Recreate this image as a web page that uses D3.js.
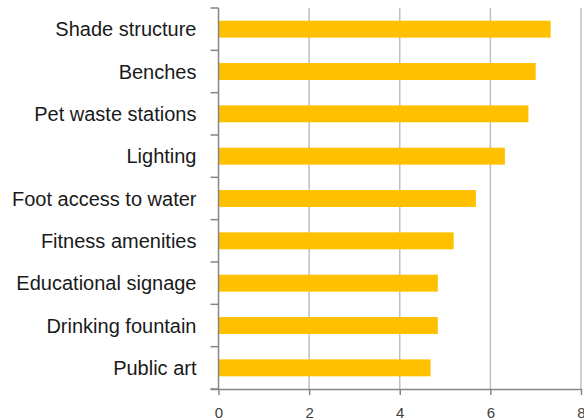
<!DOCTYPE html>
<html>
<head>
<meta charset="utf-8">
<script src="https://cdn.jsdelivr.net/npm/d3@7"></script>
<style>
  html, body { margin: 0; padding: 0; background: #fff; }
  svg { display: block; font-family: "Liberation Sans", Arial, sans-serif; }
</style>
</head>
<body>
<svg id="chart" width="584" height="420"></svg>
<script>
// Amenity ratings, top to bottom
const categories = [
  "Shade structure", "Benches", "Pet waste stations", "Lighting",
  "Foot access to water", "Fitness amenities", "Educational signage",
  "Drinking fountain", "Public art"
];
const values = [7.33, 7.0, 6.84, 6.32, 5.68, 5.19, 4.84, 4.84, 4.68];
const xTicks = [0, 2, 4, 6, 8];

const svg = d3.select("#chart");
const margin = { top: 8, right: 3, bottom: 31, left: 218.5 };
const width = 584 - margin.left - margin.right;
const height = 420 - margin.top - margin.bottom;

const x = d3.scaleLinear().domain([0, 8]).range([0, width]);
const y = d3.scaleBand().domain(categories).range([0, height]).paddingInner(0.6).paddingOuter(0.3);

const g = svg.append("g").attr("transform", `translate(${margin.left},${margin.top})`);

// vertical gridlines
g.append("g").selectAll("line")
  .data(xTicks.filter(t => t > 0))
  .join("line")
  .attr("x1", d => x(d)).attr("x2", d => x(d))
  .attr("y1", 0).attr("y2", height)
  .attr("stroke", "#bfbfbf").attr("stroke-width", 1.5);

// bars
g.append("g").selectAll("rect")
  .data(categories)
  .join("rect")
  .attr("x", 0)
  .attr("y", d => y(d))
  .attr("width", (d, i) => x(values[i]))
  .attr("height", y.bandwidth())
  .attr("fill", "#ffc000");

// x axis
const xAxis = g.append("g")
  .attr("transform", `translate(0,${height})`)
  .call(d3.axisBottom(x).tickValues(xTicks).tickSize(6).tickPadding(12).tickSizeOuter(0));
xAxis.select(".domain").attr("stroke", "#868686").attr("stroke-width", 1.5)
  .attr("d", `M-8,0.5H${width}`);
xAxis.selectAll(".tick line").attr("stroke", "#868686").attr("stroke-width", 1.5).attr("y1", 0).attr("y2", 6);
xAxis.selectAll(".tick text").attr("font-size", 15).attr("fill", "#404040");

// y axis with tick marks between categories
const yAxisG = g.append("g");
yAxisG.append("line")
  .attr("x1", 0).attr("x2", 0).attr("y1", 0).attr("y2", height)
  .attr("stroke", "#868686").attr("stroke-width", 1.5);
const bounds = d3.range(categories.length + 1).map(i => i * height / categories.length);
yAxisG.selectAll("line.sep")
  .data(bounds)
  .join("line")
  .attr("class", "sep")
  .attr("x1", -8).attr("x2", 0)
  .attr("y1", d => d).attr("y2", d => d)
  .attr("stroke", "#868686").attr("stroke-width", 1.5);
yAxisG.selectAll("text")
  .data(categories)
  .join("text")
  .attr("x", -22)
  .attr("y", d => y(d) + y.bandwidth() / 2)
  .attr("dy", "0.35em")
  .attr("text-anchor", "end")
  .attr("font-size", 20)
  .attr("fill", "#1a1a1a")
  .text(d => d);
</script>
</body>
</html>
